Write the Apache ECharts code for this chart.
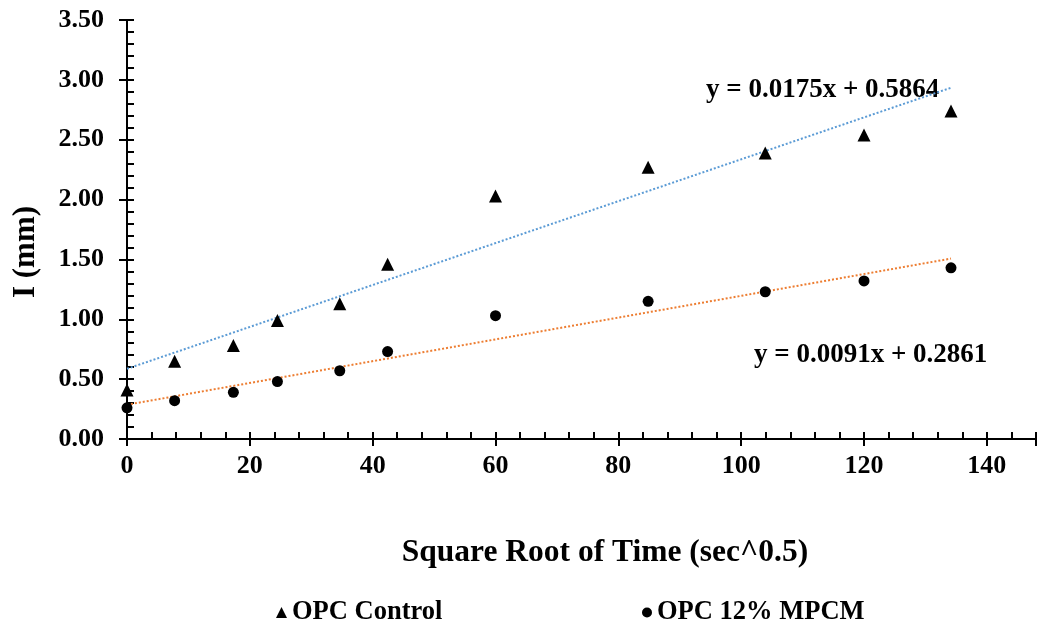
<!DOCTYPE html>
<html>
<head>
<meta charset="utf-8">
<script src="https://cdn.jsdelivr.net/npm/echarts@6/dist/echarts.min.js"></script>
<style>
html,body{margin:0;padding:0;background:#fff;}
#chart{width:1039px;height:622px;}
</style>
</head>
<body>
<div id="chart"></div>
<script>
// Data
const sqrtTime = [0, 7.75, 17.32, 24.49, 34.64, 42.43, 60, 84.85, 103.92, 120, 134.16];
const controlI = [0.41, 0.65, 0.78, 0.99, 1.13, 1.46, 2.03, 2.27, 2.39, 2.54, 2.74];
const mpcmI   = [0.26, 0.32, 0.39, 0.48, 0.57, 0.73, 1.03, 1.15, 1.23, 1.32, 1.43];
const seriesNames = ['OPC Control', 'OPC 12% MPCM'];
const controlFit = {slope: 0.0175, intercept: 0.5864, label: 'y = 0.0175x + 0.5864'};
const mpcmFit = {slope: 0.0091, intercept: 0.2861, label: 'y = 0.0091x + 0.2861'};
const xTitle = 'Square Root of Time (sec^0.5)';
const yTitle = 'I (mm)';

const FONT = '"Liberation Serif", "Times New Roman", serif';
const pts = (ys) => sqrtTime.map((x, i) => [x, ys[i]]);
const xFirst = sqrtTime[0], xLast = sqrtTime[sqrtTime.length - 1];
const fitLine = (f) => [[xFirst, f.slope * xFirst + f.intercept], [xLast, f.slope * xLast + f.intercept]];

const chart = echarts.init(document.getElementById('chart'));
const axisLine = {show: true, onZero: false, lineStyle: {color: '#000', width: 2}};
chart.setOption({
  animation: false,
  backgroundColor: '#fff',
  grid: {left: 127, right: 2, top: 20, bottom: 183},
  xAxis: [{
    type: 'value', min: 0, max: 148, interval: 20, position: 'bottom',
    axisLine: axisLine,
    axisTick: {show: true, inside: false, length: 7, lineStyle: {color: '#000', width: 2}},
    minorTick: {show: false},
    splitLine: {show: false},
    axisLabel: {fontFamily: FONT, fontWeight: 'bold', fontSize: 26, color: '#000', margin: 14,
      formatter: v => (v % 20 === 0 ? String(v) : '')}
  }, {
    type: 'value', min: 0, max: 148, interval: 20, position: 'bottom',
    axisLine: {show: false, onZero: false},
    axisTick: {show: true, inside: true, length: 7, lineStyle: {color: '#000', width: 2}},
    minorTick: {show: true, splitNumber: 5, length: 7, lineStyle: {color: '#000', width: 2}},
    splitLine: {show: false},
    axisLabel: {show: false}
  }],
  yAxis: [{
    type: 'value', min: 0, max: 3.5, interval: 0.5, position: 'left',
    axisLine: axisLine,
    axisTick: {show: true, inside: false, length: 8, lineStyle: {color: '#000', width: 2}},
    minorTick: {show: false},
    splitLine: {show: false},
    axisLabel: {fontFamily: FONT, fontWeight: 'bold', fontSize: 26, color: '#000', margin: 23,
      formatter: v => v.toFixed(2)}
  }, {
    type: 'value', min: 0, max: 3.5, interval: 0.5, position: 'left',
    axisLine: {show: false, onZero: false},
    axisTick: {show: true, inside: true, length: 7, lineStyle: {color: '#000', width: 2}},
    minorTick: {show: true, splitNumber: 5, length: 7, lineStyle: {color: '#000', width: 2}},
    splitLine: {show: false},
    axisLabel: {show: false}
  }],
  legend: [{
    data: [{name: seriesNames[0], icon: 'triangle'}],
    left: 271, top: 594, itemWidth: 11, itemHeight: 11, itemGap: 6,
    textStyle: {fontFamily: FONT, fontWeight: 'bold', fontSize: 26.5, color: '#000'}
  }, {
    data: [{name: seriesNames[1], icon: 'circle'}],
    left: 637, top: 594, itemWidth: 10, itemHeight: 10,
    textStyle: {fontFamily: FONT, fontWeight: 'bold', fontSize: 26.5, color: '#000'}
  }],
  series: [
    {
      name: 'ctrlFit', type: 'line', data: fitLine(controlFit), symbol: 'none', silent: true,
      lineStyle: {color: '#5B9BD5', width: 2, type: [2, 2]}, z: 1
    },
    {
      name: 'mpcmFit', type: 'line', data: fitLine(mpcmFit), symbol: 'none', silent: true,
      lineStyle: {color: '#ED7D31', width: 2, type: [2, 2]}, z: 1
    },
    {
      name: seriesNames[0], type: 'scatter', data: pts(controlI), symbol: 'triangle', symbolSize: 13,
      itemStyle: {color: '#000', opacity: 1}, z: 3
    },
    {
      name: seriesNames[1], type: 'scatter', data: pts(mpcmI), symbol: 'circle', symbolSize: 11,
      itemStyle: {color: '#000', opacity: 1}, z: 3
    }
  ],
  graphic: [
    {type: 'text', left: 706, top: 77, style: {text: controlFit.label, font: 'bold 27px ' + FONT, fill: '#000'}},
    {type: 'text', left: 754, top: 342, style: {text: mpcmFit.label, font: 'bold 27px ' + FONT, fill: '#000'}},
    {type: 'text', x: 26, y: 252, rotation: Math.PI / 2,
      style: {text: yTitle, font: 'bold 31px ' + FONT, fill: '#000', align: 'center', verticalAlign: 'middle'}},
    {type: 'text', x: 605, y: 553,
      style: {text: xTitle, font: 'bold 31.5px ' + FONT, fill: '#000', align: 'center', verticalAlign: 'middle'}}
  ]
});
</script>
</body>
</html>
